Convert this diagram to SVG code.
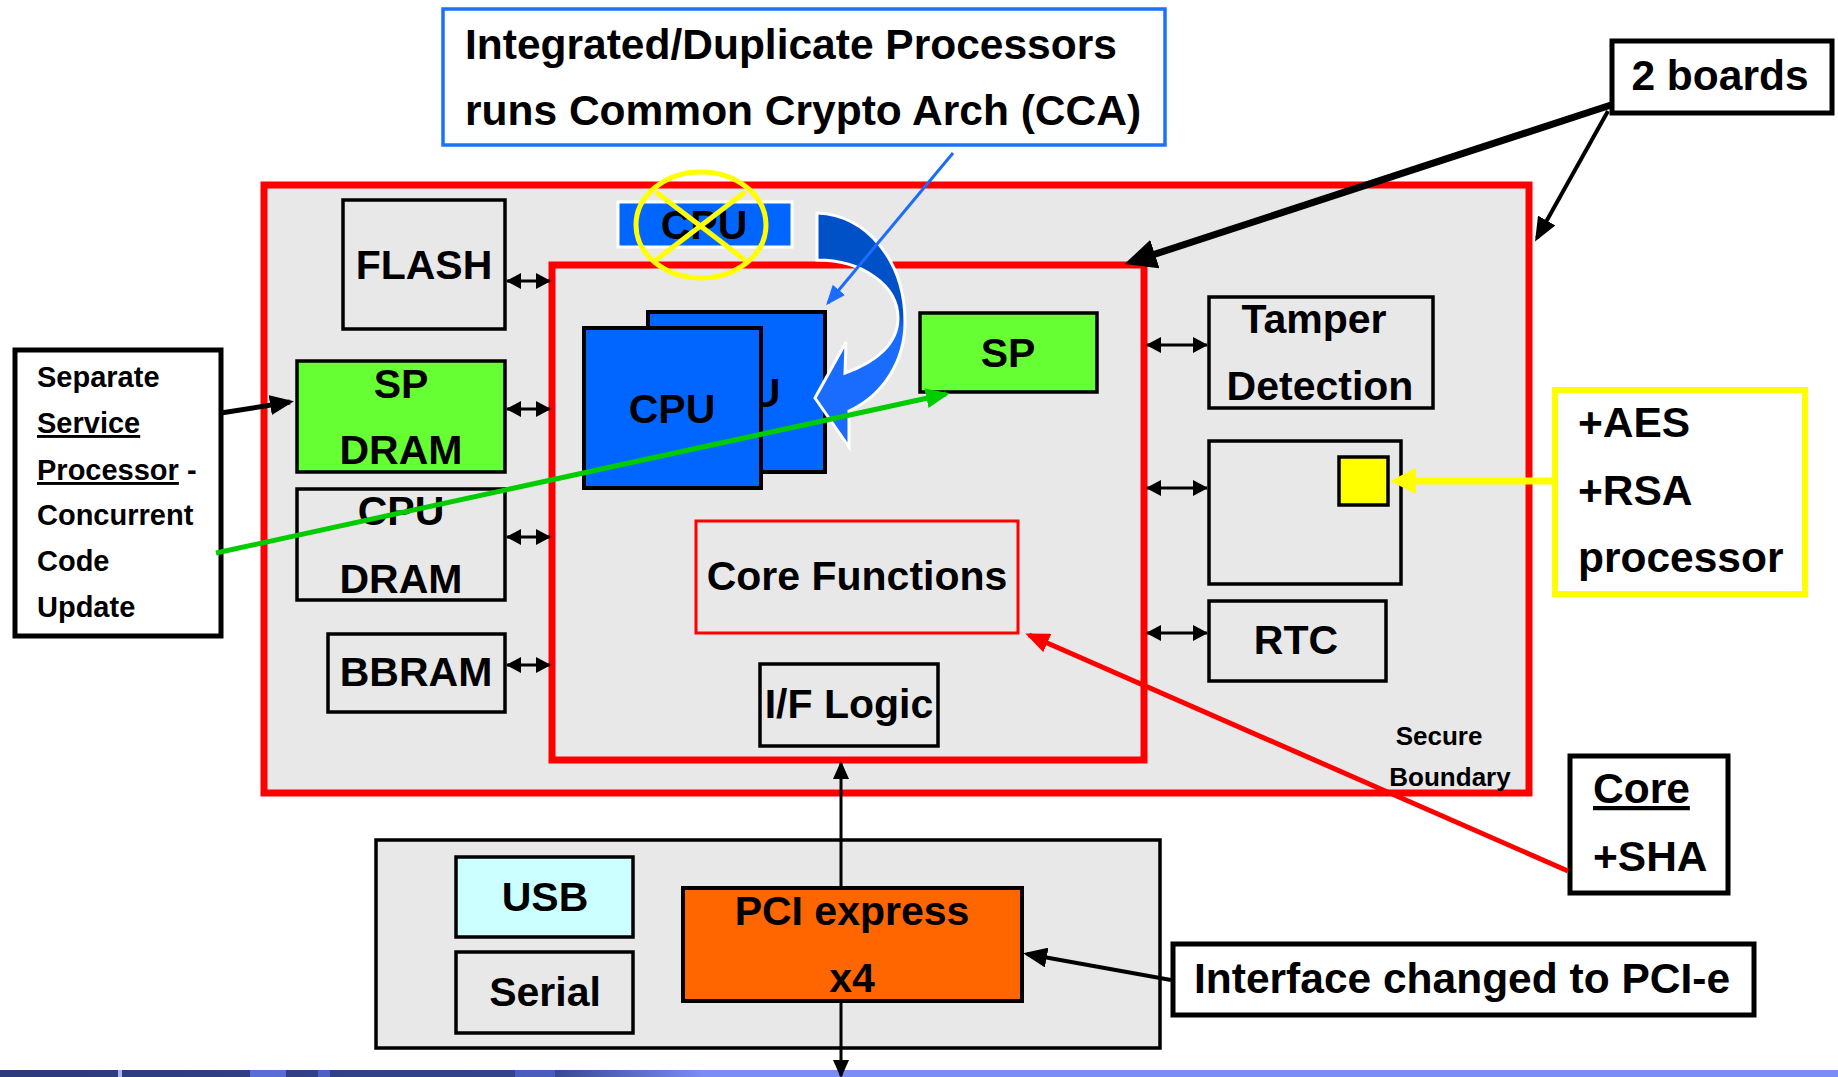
<svg xmlns="http://www.w3.org/2000/svg" width="1838" height="1077" viewBox="0 0 1838 1077">
  <style>
    text { font-family: 'Liberation Sans', Arial, sans-serif; font-weight: bold; fill: #000; }
    .lbl { font-size: 41px; text-anchor: middle; }
    .note { font-size: 42.5px; }
    .small { font-size: 29px; }
    .tiny { font-size: 26px; text-anchor: middle; }
    .box { stroke: #000; stroke-width: 3.5; fill: #e8e8e8; }
    .cpu { stroke: #000; stroke-width: 4; fill: #0066ff; }
    .green { stroke: #000; stroke-width: 3.5; fill: #66ff33; }
    .callout { stroke: #000; stroke-width: 5; fill: #fff; }
    .bus { stroke: #000; stroke-width: 3; fill: none; marker-start: url(#dbl); marker-end: url(#dbl); }
  </style>
  <defs>
    <marker id="dbl" markerUnits="userSpaceOnUse" viewBox="0 0 15 16" refX="14" refY="8" markerWidth="15" markerHeight="16" orient="auto-start-reverse">
      <path d="M0,0 L15,8 L0,16 Z" fill="#000"/>
    </marker>
    <marker id="ahBig" markerUnits="userSpaceOnUse" viewBox="0 0 32 30" refX="22" refY="15" markerWidth="32" markerHeight="30" orient="auto">
      <path d="M0,0 L32,15 L0,30 Z" fill="#000"/>
    </marker>
    <marker id="ahBlk" markerUnits="userSpaceOnUse" viewBox="0 0 24 20" refX="20" refY="10" markerWidth="24" markerHeight="20" orient="auto">
      <path d="M0,0 L24,10 L0,20 Z" fill="#000"/>
    </marker>
    <marker id="ahThin" markerUnits="userSpaceOnUse" viewBox="0 0 18 16" refX="16" refY="8" markerWidth="18" markerHeight="16" orient="auto">
      <path d="M0,0 L18,8 L0,16 Z" fill="#000"/>
    </marker>
    <marker id="ahGreen" markerUnits="userSpaceOnUse" viewBox="0 0 24 20" refX="20" refY="10" markerWidth="24" markerHeight="20" orient="auto">
      <path d="M0,0 L24,10 L0,20 Z" fill="#00cc00"/>
    </marker>
    <marker id="ahRed" markerUnits="userSpaceOnUse" viewBox="0 0 24 20" refX="20" refY="10" markerWidth="24" markerHeight="20" orient="auto">
      <path d="M0,0 L24,10 L0,20 Z" fill="#ff0000"/>
    </marker>
    <marker id="ahBlue" markerUnits="userSpaceOnUse" viewBox="0 0 20 16" refX="17" refY="8" markerWidth="20" markerHeight="16" orient="auto">
      <path d="M0,0 L20,8 L0,16 Z" fill="#1a6cff"/>
    </marker>
    <marker id="ahYellow" markerUnits="userSpaceOnUse" viewBox="0 0 26 26" refX="16" refY="13" markerWidth="26" markerHeight="26" orient="auto">
      <path d="M0,0 L26,13 L0,26 Z" fill="#ffff00"/>
    </marker>
    <linearGradient id="swoosh" gradientUnits="userSpaceOnUse" x1="0" y1="213" x2="0" y2="447">
      <stop offset="0" stop-color="#0050c8"/>
      <stop offset="0.44" stop-color="#0050c8"/>
      <stop offset="0.50" stop-color="#1a6cff"/>
      <stop offset="1" stop-color="#1a6cff"/>
    </linearGradient>
    <linearGradient id="bandDark" x1="0" y1="0" x2="1" y2="0">
      <stop offset="0" stop-color="#2c3a7c"/>
      <stop offset="0.78" stop-color="#34458e"/>
      <stop offset="1" stop-color="#7a8cf6"/>
    </linearGradient>
  </defs>

  <rect width="1838" height="1077" fill="#fff"/>

  <!-- footer band -->
  <g id="footer-band">
    <rect x="0" y="1070" width="1838" height="7" fill="#7a8cf6"/>
    <rect x="0" y="1070" width="703" height="7" fill="url(#bandDark)"/>
    <rect x="118" y="1070" width="4" height="7" fill="#aab4f0"/>
    <rect x="250" y="1070" width="36" height="7" fill="#5a6cd6"/>
    <rect x="318" y="1070" width="12" height="7" fill="#4e60c4"/>
    <rect x="515" y="1070" width="40" height="7" fill="#4a5cbc"/>
  </g>

  <!-- outer board: secure boundary -->
  <g id="secure-board">
    <rect x="264" y="185" width="1265" height="608" fill="#e8e8e8" stroke="#ff0000" stroke-width="7"/>
    <text class="tiny" x="1439" y="745">Secure</text>
    <text class="tiny" x="1450" y="786">Boundary</text>
  </g>

  <!-- inner board -->
  <g id="core-board">
    <rect x="552" y="265" width="592" height="495" fill="#e8e8e8" stroke="#ff0000" stroke-width="7"/>
  </g>

  <g id="flash">
    <rect class="box" x="343" y="200" width="162" height="129"/>
    <text class="lbl" x="424" y="279">FLASH</text>
  </g>

  <g id="sp-dram">
    <rect class="green" x="297" y="361" width="208" height="111"/>
    <text class="lbl" x="401" y="398">SP</text>
    <text class="lbl" x="401" y="464">DRAM</text>
  </g>

  <g id="cpu-dram">
    <rect class="box" x="297" y="489" width="208" height="111"/>
    <text class="lbl" x="401" y="525">CPU</text>
    <text class="lbl" x="401" y="593">DRAM</text>
  </g>

  <g id="bbram">
    <rect class="box" x="328" y="634" width="177" height="78"/>
    <text class="lbl" x="416" y="686">BBRAM</text>
  </g>

  <g id="cpu-removed">
    <rect x="618" y="202" width="174" height="45" fill="#0066ff" stroke="#fff" stroke-width="3"/>
    <text class="lbl" x="704" y="239">CPU</text>
    <ellipse cx="701" cy="225" rx="65" ry="53" fill="none" stroke="#ffff00" stroke-width="5"/>
    <line x1="656" y1="192" x2="745" y2="260" stroke="#ffff00" stroke-width="5"/>
    <line x1="745" y1="192" x2="656" y2="260" stroke="#ffff00" stroke-width="5"/>
  </g>

  <g id="cpu-pair">
    <rect class="cpu" x="648" y="312" width="177" height="160"/>
    <text class="lbl" x="737" y="407">CPU</text>
    <rect class="cpu" x="584" y="328" width="177" height="160"/>
    <text class="lbl" x="672" y="423">CPU</text>
  </g>

  <g id="swap-arrow">
    <path d="M817,213 C868,215 905,262 905,322 C905,360 884,395 849,411 L849,447 L815,398 L846,342 L845,373 C877,362 898,343 898,318 C898,285 862,260 817,260 Z" fill="url(#swoosh)" stroke="#fff" stroke-width="3" stroke-linejoin="miter"/>
  </g>

  <g id="sp">
    <rect class="green" x="920" y="313" width="177" height="79"/>
    <text class="lbl" x="1008" y="367">SP</text>
  </g>

  <g id="core-functions">
    <rect x="696" y="521" width="322" height="112" fill="#e8e8e8" stroke="#ff0000" stroke-width="3"/>
    <text class="lbl" x="857" y="590">Core Functions</text>
  </g>

  <g id="if-logic">
    <rect class="box" x="760" y="664" width="178" height="82"/>
    <text class="lbl" x="849" y="718">I/F Logic</text>
  </g>

  <g id="tamper">
    <rect class="box" x="1209" y="297" width="224" height="111"/>
    <text class="lbl" x="1314" y="333">Tamper</text>
    <text class="lbl" x="1320" y="400">Detection</text>
  </g>

  <g id="crypto-block">
    <rect class="box" x="1209" y="441" width="192" height="143"/>
    <rect x="1339" y="457" width="49" height="48" fill="#ffff00" stroke="#000" stroke-width="3.5"/>
  </g>

  <g id="rtc">
    <rect class="box" x="1209" y="601" width="177" height="80"/>
    <text class="lbl" x="1296" y="654">RTC</text>
  </g>

  <!-- host-side board -->
  <g id="host-board">
    <rect x="376" y="840" width="784" height="208" fill="#e8e8e8" stroke="#000" stroke-width="3.5"/>
  </g>

  <g id="usb">
    <rect x="456" y="857" width="177" height="80" fill="#ccffff" stroke="#000" stroke-width="3.5"/>
    <text class="lbl" x="545" y="911">USB</text>
  </g>

  <g id="serial">
    <rect class="box" x="456" y="952" width="177" height="81"/>
    <text class="lbl" x="545" y="1006">Serial</text>
  </g>

  <g id="pcie">
    <rect x="683" y="888" width="339" height="113" fill="#ff6600" stroke="#000" stroke-width="4"/>
    <text class="lbl" x="852" y="925">PCI express</text>
    <text class="lbl" x="852" y="992">x4</text>
  </g>

  <!-- annotations -->
  <g id="note-cca">
    <rect x="443" y="9" width="722" height="136" fill="#fff" stroke="#1a73ff" stroke-width="3.5"/>
    <text class="note" x="465" y="59">Integrated/Duplicate Processors</text>
    <text class="note" x="465" y="125">runs Common Crypto Arch (CCA)</text>
  </g>

  <g id="note-boards">
    <rect class="callout" x="1612" y="41" width="220" height="72"/>
    <text class="note" x="1720" y="90" text-anchor="middle">2 boards</text>
  </g>

  <g id="note-sp">
    <rect class="callout" x="15" y="350" width="206" height="286"/>
    <text class="small" x="37" y="387">Separate</text>
    <text class="small" x="37" y="433"><tspan text-decoration="underline">Service</tspan></text>
    <text class="small" x="37" y="480"><tspan text-decoration="underline">Processor</tspan> -</text>
    <text class="small" x="37" y="525">Concurrent</text>
    <text class="small" x="37" y="571">Code</text>
    <text class="small" x="37" y="617">Update</text>
  </g>

  <g id="note-crypto">
    <rect x="1555" y="390" width="250" height="204" fill="#fff" stroke="#ffff00" stroke-width="6"/>
    <text class="note" x="1578" y="437">+AES</text>
    <text class="note" x="1578" y="505">+RSA</text>
    <text class="note" x="1578" y="572">processor</text>
  </g>

  <g id="note-sha">
    <rect class="callout" x="1570" y="756" width="158" height="137"/>
    <text class="note" x="1593" y="803"><tspan text-decoration="underline">Core</tspan></text>
    <text class="note" x="1593" y="871">+SHA</text>
  </g>

  <g id="note-pcie">
    <rect class="callout" x="1173" y="944" width="581" height="71"/>
    <text class="note" x="1194" y="993">Interface changed to PCI-e</text>
  </g>

  <!-- connectors -->
  <g id="connectors" fill="none">
    <line class="bus" x1="507" y1="281" x2="550" y2="281"/>
    <line class="bus" x1="507" y1="409" x2="550" y2="409"/>
    <line class="bus" x1="507" y1="537" x2="550" y2="537"/>
    <line class="bus" x1="507" y1="665" x2="550" y2="665"/>
    <line class="bus" x1="1147" y1="345" x2="1207" y2="345"/>
    <line class="bus" x1="1147" y1="488" x2="1207" y2="488"/>
    <line class="bus" x1="1147" y1="633" x2="1207" y2="633"/>

    <line x1="841" y1="887" x2="841" y2="763" stroke="#000" stroke-width="3" marker-end="url(#ahThin)"/>
    <line x1="841" y1="1002" x2="841" y2="1076" stroke="#000" stroke-width="3" marker-end="url(#ahThin)"/>

    <line x1="953" y1="153" x2="828" y2="303" stroke="#1a6cff" stroke-width="3" marker-end="url(#ahBlue)"/>

    <line x1="1611" y1="105" x2="1134" y2="261" stroke="#000" stroke-width="7" marker-end="url(#ahBig)"/>
    <line x1="1608" y1="111" x2="1537" y2="238" stroke="#000" stroke-width="4" marker-end="url(#ahBlk)"/>

    <line x1="221" y1="413" x2="290" y2="402" stroke="#000" stroke-width="5" marker-end="url(#ahBlk)"/>
    <line x1="216" y1="553" x2="946" y2="394" stroke="#00cc00" stroke-width="5" marker-end="url(#ahGreen)"/>

    <line x1="1553" y1="481" x2="1400" y2="481" stroke="#ffff00" stroke-width="7" marker-end="url(#ahYellow)"/>
    <line x1="1568" y1="871" x2="1029" y2="635" stroke="#ff0000" stroke-width="5" marker-end="url(#ahRed)"/>
    <line x1="1171" y1="980" x2="1027" y2="954" stroke="#000" stroke-width="4" marker-end="url(#ahBlk)"/>
  </g>
</svg>
